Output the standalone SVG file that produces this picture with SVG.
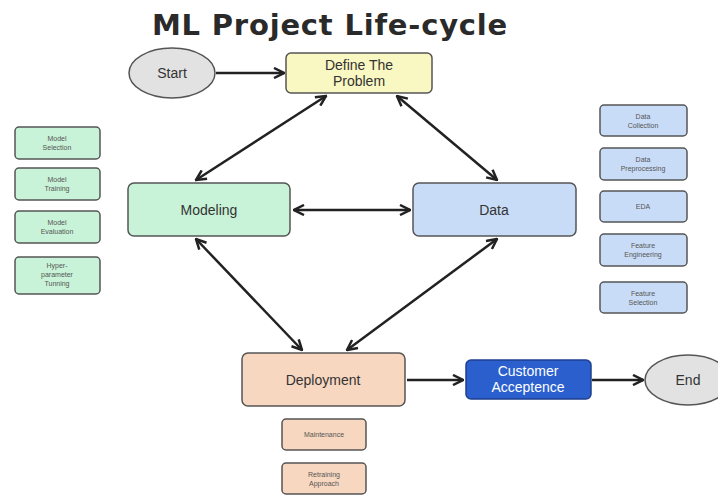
<svg xmlns="http://www.w3.org/2000/svg" width="718" height="497" viewBox="0 0 718 497">
<defs>
<marker id="ah" viewBox="0 0 10 10" refX="9" refY="5" markerWidth="5" markerHeight="5" orient="auto-start-reverse" markerUnits="strokeWidth">
<path d="M1,1 L9,5 L1,9" fill="none" stroke="#222" stroke-width="2"/>
</marker>
<style>
text{font-family:"Liberation Sans",Arial,sans-serif;text-anchor:middle;fill:#333}
.title{font-family:"DejaVu Sans","Liberation Sans",sans-serif;font-size:29px;font-weight:bold;fill:#2a2a2a;letter-spacing:0.8px}
.main{font-size:14px}
.small{font-size:7px;fill:#555}
.box{stroke:#555;stroke-width:1.5}
.y{fill:#f9f7c2}
.g{fill:#c8f3d8}
.b{fill:#c9dcf7}
.p{fill:#f8d7c0}
.o{fill:#e2e2e2}
.con line{stroke:#222;stroke-width:2.5;marker-end:url(#ah)}
.con line.bi{marker-start:url(#ah)}
</style>
</defs>
<rect width="718" height="497" fill="#fff"/>
<text class="title" x="330" y="35">ML Project Life-cycle</text>

<g class="con">
<line x1="216" y1="73" x2="284" y2="73"/>
<line class="bi" x1="196" y1="180" x2="326" y2="96"/>
<line class="bi" x1="497" y1="180" x2="397" y2="96"/>
<line class="bi" x1="294" y1="210" x2="410" y2="210"/>
<line class="bi" x1="196" y1="239" x2="302" y2="350"/>
<line class="bi" x1="497" y1="239" x2="347" y2="350"/>
<line x1="407" y1="380" x2="463" y2="380"/>
<line x1="592" y1="380" x2="643" y2="380"/>
</g>

<g id="start"><ellipse class="box o" cx="172" cy="73" rx="43" ry="25"/><text class="main" x="172" y="78">Start</text></g>
<g id="define"><rect class="box y" x="286" y="53" width="146" height="40" rx="5"/><text class="main" x="359" y="70">Define The</text><text class="main" x="359" y="86">Problem</text></g>
<g id="modeling"><rect class="box g" x="128" y="183" width="162" height="53" rx="6"/><text class="main" x="209" y="215">Modeling</text></g>
<g id="data"><rect class="box b" x="413" y="183" width="163" height="53" rx="6"/><text class="main" x="494" y="215">Data</text></g>
<g id="deployment"><rect class="box p" x="242" y="353" width="163" height="53" rx="6"/><text class="main" x="323" y="385">Deployment</text></g>
<g id="customer"><rect x="466" y="360" width="125" height="39" rx="5" fill="#2b5fce" stroke="#1f3f8f" stroke-width="1.5"/><text class="main" x="528" y="376" style="fill:#fff">Customer</text><text class="main" x="528" y="392" style="fill:#fff">Acceptence</text></g>
<g id="end"><ellipse class="box o" cx="688" cy="380" rx="43" ry="25"/><text class="main" x="688" y="385">End</text></g>

<g id="model-selection"><rect class="box g" x="15" y="127" width="85" height="32" rx="4"/><text class="small" x="57" y="141">Model</text><text class="small" x="57" y="150">Selection</text></g>
<g id="model-training"><rect class="box g" x="15" y="168" width="85" height="32" rx="4"/><text class="small" x="57" y="182">Model</text><text class="small" x="57" y="191">Training</text></g>
<g id="model-evaluation"><rect class="box g" x="15" y="211" width="85" height="32" rx="4"/><text class="small" x="57" y="225">Model</text><text class="small" x="57" y="234">Evaluation</text></g>
<g id="hyper"><rect class="box g" x="15" y="257" width="85" height="37" rx="4"/><text class="small" x="57" y="268">Hyper-</text><text class="small" x="57" y="277">parameter</text><text class="small" x="57" y="286">Tunning</text></g>

<g id="data-collection"><rect class="box b" x="600" y="105" width="87" height="31" rx="4"/><text class="small" x="643" y="119">Data</text><text class="small" x="643" y="128">Collection</text></g>
<g id="data-preprocessing"><rect class="box b" x="600" y="148" width="87" height="32" rx="4"/><text class="small" x="643" y="162">Data</text><text class="small" x="643" y="171">Preprocessing</text></g>
<g id="eda"><rect class="box b" x="600" y="191" width="87" height="31" rx="4"/><text class="small" x="643" y="209">EDA</text></g>
<g id="feature-engineering"><rect class="box b" x="600" y="234" width="87" height="32" rx="4"/><text class="small" x="643" y="248">Feature</text><text class="small" x="643" y="257">Engineering</text></g>
<g id="feature-selection"><rect class="box b" x="600" y="282" width="87" height="31" rx="4"/><text class="small" x="643" y="296">Feature</text><text class="small" x="643" y="305">Selection</text></g>

<g id="maintenance"><rect class="box p" x="282" y="419" width="84" height="31" rx="4"/><text class="small" x="324" y="437">Maintenance</text></g>
<g id="retraining"><rect class="box p" x="282" y="463" width="84" height="31" rx="4"/><text class="small" x="324" y="477">Retraining</text><text class="small" x="324" y="486">Approach</text></g>
</svg>
